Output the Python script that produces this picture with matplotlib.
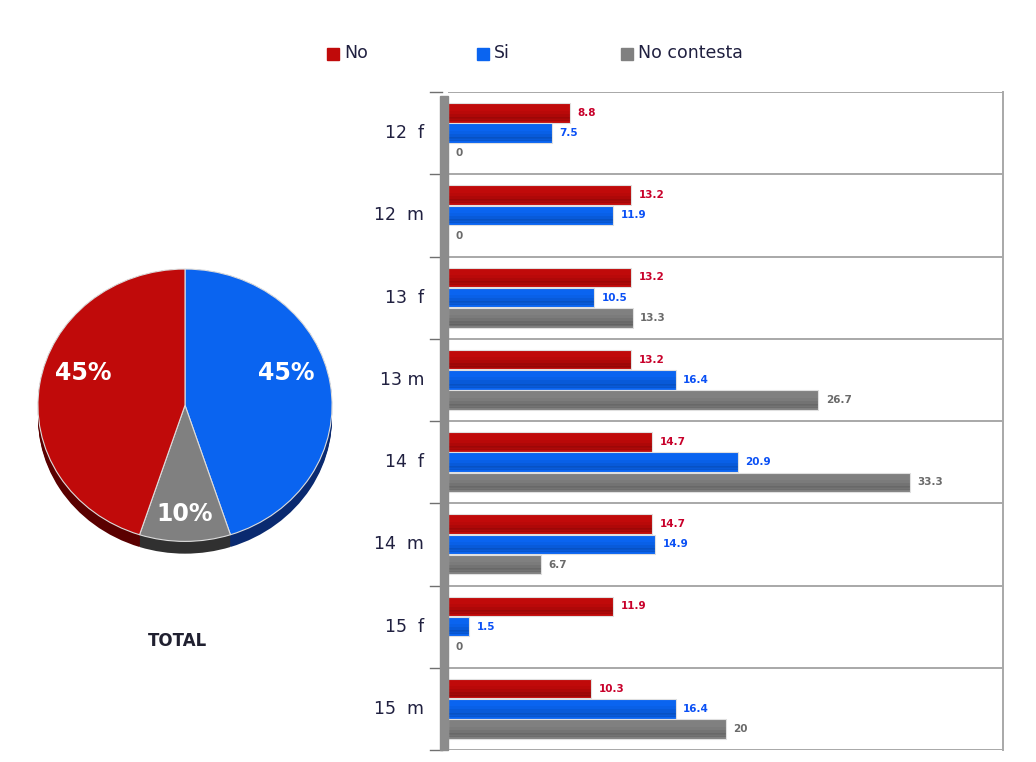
import numpy as np
import matplotlib.pyplot as plt
from matplotlib.patches import Rectangle, Wedge

categories = ["12  f", "12  m", "13  f", "13 m", "14  f", "14  m", "15  f", "15  m"]
no_vals = [8.8, 13.2, 13.2, 13.2, 14.7, 14.7, 11.9, 10.3]
si_vals = [7.5, 11.9, 10.5, 16.4, 20.9, 14.9, 1.5, 16.4]
nc_vals = [0, 0, 13.3, 26.7, 33.3, 6.7, 0, 20]

series_names = ["No", "Si", "No contesta"]
pie_vals = [45, 45, 10]  # No, Si, No contesta
pie_labels = ["45%", "45%", "10%"]

red = "#C00A0A"
blue = "#0A64F0"
gray = "#808080"
txt_cols = ["#C8002A", "#0A50F5", "#6A6A6A"]

fig = plt.figure(figsize=(10.36, 7.62), dpi=100)
fig.patch.set_facecolor("white")

# ---- bar chart
ax = fig.add_axes([448 / 1036, 1 - 750 / 762, (1003 - 448) / 1036, (750 - 92) / 762])
n = len(categories)
y = np.arange(n)
h = 0.245
for k, (vals, col) in enumerate(zip([no_vals, si_vals, nc_vals], [red, blue, gray])):
    yy = y + (k - 1) * h
    ax.barh(yy, vals, height=h * 0.97, color=col, edgecolor="#E0E0E0", linewidth=0.8)
    # soft shading towards the bottom of each bar
    for j, a in enumerate([0.06, 0.1, 0.16, 0.24]):
        ax.barh(yy + h * (0.06 + 0.1 * j), vals, height=h * 0.36 - h * 0.1 * j,
                color="black", alpha=a * 0.6, linewidth=0)
    for yv, v in zip(yy, vals):
        ax.text(v + 0.55, yv, f"{v:g}", color=txt_cols[k], fontsize=7.5,
                va="center", ha="left", fontweight="bold")

ax.set_xlim(0, 40)
ax.set_ylim(n - 0.5, -0.5)
ax.set_xticks([])
ax.set_yticks([])
for b in np.arange(n + 1) - 0.5:
    ax.axhline(b, color="#A8A8A8", lw=1.4, zorder=0)
for s in ["top", "bottom", "left"]:
    ax.spines[s].set_visible(False)
ax.spines["right"].set_color("#A8A8A8")
ax.spines["right"].set_linewidth(1.4)
ax.patch.set_alpha(0)

# grey 3d wall on the left + ticks
fig.patches.append(Rectangle((440 / 1036, 1 - 750 / 762), 8 / 1036, (750 - 96) / 762,
                             transform=fig.transFigure, color="#8C8C8C", zorder=3))
for b in np.arange(n + 1) - 0.5:
    yf = 1 - (92 + (b + 0.5) * (750 - 92) / n) / 762
    fig.lines.append(plt.Line2D([430 / 1036, 442 / 1036], [yf, yf], transform=fig.transFigure,
                                color="#707070", lw=1))

for i, c in enumerate(categories):
    yf = 1 - (92 + (i + 0.5) * (750 - 92) / n) / 762
    fig.text(424 / 1036, yf, c, ha="right", va="center", fontsize=12.5, color="#202040")

# ---- legend
leg_x = [327, 477, 621]
for lx, name, col in zip(leg_x, series_names, [red, blue, gray]):
    fig.patches.append(Rectangle((lx / 1036, 1 - 60 / 762), 12 / 1036, 12 / 762,
                                 transform=fig.transFigure, color=col))
    fig.text((lx + 17) / 1036, 1 - 53 / 762, name, fontsize=12.5, va="center",
             ha="left", color="#202040")

# ---- pie (slightly tilted: squashed vertically, with a dark rim below)
pax = fig.add_axes([20 / 1036, 1 - 570 / 762, 330 / 1036, 320 / 762])
pax.set_xlim(-1.122, 1.122)
pax.set_ylim(-1.21, 1.14)
pax.axis("off")
order = [1, 2, 0]  # Si, No contesta, No clockwise from top
cols = {0: red, 1: blue, 2: gray}
dark = {0: "#5A0000", 1: "#0A2A70", 2: "#303030"}
angle = 90
spans = []
for idx in order:
    span = pie_vals[idx] / sum(pie_vals) * 360
    spans.append((idx, angle - span, angle))
    angle -= span
for d in np.linspace(0.09, 0.0, 10):
    for idx, a0, a1 in spans:
        pax.add_patch(Wedge((0, -d), 1, a0, a1, color=dark[idx], lw=0))
for idx, a0, a1 in spans:
    pax.add_patch(Wedge((0, 0), 1, a0, a1, facecolor=cols[idx], edgecolor="#DDDDDD", lw=0.8))
    mid = np.deg2rad((a0 + a1) / 2)
    if idx == 2:
        lx, ly = 0.8 * np.cos(mid), 0.8 * np.sin(mid)
    else:
        lx, ly = 0.7 * np.cos(mid), 0.7 * np.sin(mid) + 0.13
    pax.text(lx, ly, pie_labels[idx], color="white",
             fontsize=17, fontweight="bold", ha="center", va="center")
pax.set_aspect("auto")

fig.text(177 / 1036, 1 - 641 / 762, "TOTAL", fontsize=12, fontweight="bold",
         ha="center", va="center", color="#202030")

fig.savefig("out.png", dpi=100)
